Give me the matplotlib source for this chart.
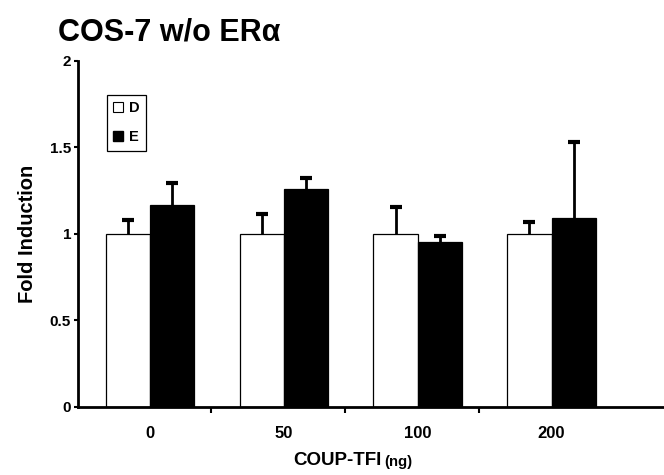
import numpy as np
import matplotlib.pyplot as plt
from matplotlib.lines import Line2D

plt.rcParams['font.family'] = 'Liberation Sans'
plt.rcParams['font.weight'] = 'bold'

doses = ['0', '50', '100', '200']
d_vals = [1.0, 1.0, 1.0, 1.0]
d_err = [0.08, 0.115, 0.155, 0.07]
e_vals = [1.165, 1.26, 0.955, 1.095]
e_err = [0.128, 0.065, 0.033, 0.435]

fig = plt.figure(figsize=(6.64, 4.75), dpi=100)
ax = fig.add_axes([0.1175, 0.1432, 0.8825, 0.7284])

x = np.arange(len(doses))
w = 0.33
ax.bar(x - w/2, d_vals, w, color='white', edgecolor='black', linewidth=0.9, zorder=2)
ax.bar(x + w/2, e_vals, w, color='black', edgecolor='black', linewidth=0.9, zorder=2)
for xs, vals, err in [(x - w/2, d_vals, d_err), (x + w/2, e_vals, e_err)]:
    eb = ax.errorbar(xs, vals, yerr=[np.zeros(4), err], fmt='none', ecolor='black',
                     elinewidth=2, capsize=4, capthick=3, zorder=1)
    eb[1][0].set_visible(False)

ax.set_xlim(-0.537, 3.84)
ax.set_ylim(0, 2)
ax.set_yticks([0, 0.5, 1, 1.5, 2])
ax.set_yticklabels(['0', '0.5', '1', '1.5', '2'], fontsize=11, fontweight='bold')
ax.set_xticks(x)
ax.set_xticklabels(doses, fontsize=12, fontweight='bold')
ax.tick_params(axis='x', which='major', length=0, pad=14)
ax.set_xticks(x[:-1] + 0.455, minor=True)
ax.tick_params(axis='x', which='minor', length=4, width=1.5, direction='out')
ax.tick_params(axis='y', length=3, width=1.5, pad=2)

for s in ['top', 'right']:
    ax.spines[s].set_visible(False)
ax.spines['left'].set_linewidth(2)
ax.spines['bottom'].set_linewidth(2)

ax.set_ylabel('Fold Induction', fontsize=14.5, fontweight='bold', labelpad=9)

fig.text(0.575, 0.012, 'COUP-TFI', fontsize=13.5, fontweight='bold', ha='right', va='bottom')
fig.text(0.579, 0.012, '(ng)', fontsize=10.7, fontweight='bold', ha='left', va='bottom')

fig.text(0.088, 0.9, 'COS-7 w/o ERα', fontsize=22, fontweight='bold', ha='left', va='bottom')

handles = [Line2D([], [], marker='s', linestyle='none', markerfacecolor='white',
                  markeredgecolor='black', markersize=6.5, markeredgewidth=0.8),
           Line2D([], [], marker='s', linestyle='none', markerfacecolor='black',
                  markeredgecolor='black', markersize=6.5)]
leg = ax.legend(handles, ['D', 'E'], loc='upper left', bbox_to_anchor=(0.049, 0.902),
                borderaxespad=0, fancybox=False, edgecolor='black', framealpha=1,
                handlelength=0.7, handletextpad=0.35, borderpad=0.45, labelspacing=1.0,
                prop={'weight': 'bold', 'size': 10.5})
leg.get_frame().set_linewidth(0.9)

fig.savefig('out.png', dpi=100)
